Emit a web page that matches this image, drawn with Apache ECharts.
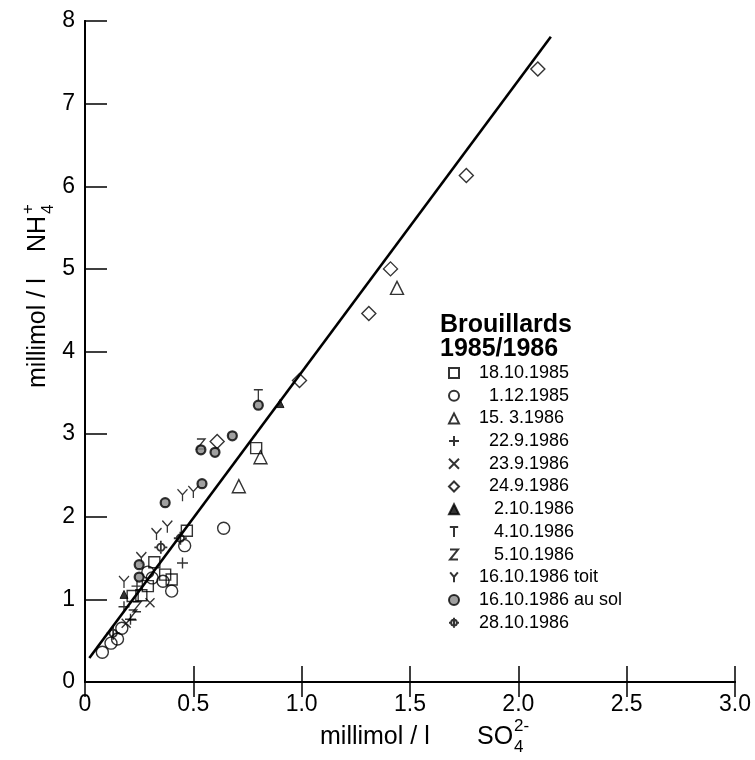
<!DOCTYPE html>
<html><head><meta charset="utf-8">
<script src="https://cdn.jsdelivr.net/npm/echarts@6/dist/echarts.min.js"></script>
<style>html,body{margin:0;padding:0;background:#fff}#c{width:755px;height:760px}</style>
</head><body><div id="c"></div>
<script>
// ---- data ----
const xTickLabels = ['0','0.5','1.0','1.5','2.0','2.5','3.0'];
const yTickLabels = ['0','1','2','3','4','5','6','7','8'];
const seriesNames = ['18.10.1985','1.12.1985','15. 3.1986','22.9.1986','23.9.1986','24.9.1986','2.10.1986','4.10.1986','5.10.1986','16.10.1986 toit','16.10.1986 au sol','28.10.1986'];
const legendLabels = ['18.10.1985','  1.12.1985','15. 3.1986','  22.9.1986','  23.9.1986','  24.9.1986','   2.10.1986','   4.10.1986','   5.10.1986','16.10.1986 toit','16.10.1986 au sol','28.10.1986'];
const d_18_10_1985 = [[0.47,1.83],[0.32,1.45],[0.37,1.30],[0.40,1.24],[0.29,1.16],[0.22,1.04],[0.26,1.05],[0.79,2.83]];
const d_01_12_1985 = [[0.64,1.86],[0.46,1.65],[0.29,1.33],[0.31,1.26],[0.36,1.22],[0.40,1.10],[0.17,0.65],[0.15,0.52],[0.12,0.47],[0.08,0.36]];
const d_15_03_1986 = [[0.71,2.37],[0.81,2.72],[1.44,4.77]];
const d_22_09_1986 = [[0.45,1.44],[0.24,1.16],[0.21,0.76],[0.18,0.91]];
const d_23_09_1986 = [[0.30,0.96],[0.19,0.71]];
const d_24_09_1986 = [[0.61,2.91],[0.99,3.65],[1.31,4.46],[1.41,5.00],[1.76,6.13],[2.09,7.42]];
const d_02_10_1986 = [[0.90,3.37],[0.18,1.06]];
const d_04_10_1986 = [[0.80,3.47]];
const d_05_10_1986 = [[0.535,2.88],[0.24,0.91],[0.22,0.81]];
const d_16_10_toit = [[0.38,1.88],[0.33,1.79],[0.26,1.50],[0.18,1.21],[0.45,2.26],[0.50,2.30]];
const d_16_10_sol = [[0.37,2.17],[0.54,2.40],[0.535,2.81],[0.60,2.78],[0.68,2.98],[0.80,3.35],[0.25,1.42],[0.25,1.27]];
const d_28_10_1986 = [[0.44,1.74],[0.35,1.63],[0.13,0.59]];
const regLineX = [0.02, 2.15];
const regLineY = [0.29, 7.81];

// ---- styles ----
const FONT = 'Liberation Sans';
const open = {color:'rgba(0,0,0,0)', borderColor:'#000', borderWidth:1.4};
const symbolDefs = [
  {symbol:'rect', size:11, style:open},
  {symbol:'circle', size:12, style:open},
  {symbol:'triangle', size:13, style:open},
  {symbol:'path://M6,0L6,12M0,6L12,6', size:11, style:open},
  {symbol:'path://M0,0L10,10M10,0L0,10', size:9, style:open},
  {symbol:'diamond', size:14, style:open},
  {symbol:'triangle', size:8, style:{color:'#000', borderColor:'#000', borderWidth:1}},
  {symbol:'path://M0,0L10,0M5,0L5,12', size:[9,11], style:open},
  {symbol:'path://M0,0L8,0L0,10L8,10', size:[8,10], style:open},
  {symbol:'path://M0,0L5,6L10,0M5,6L5,13', size:[10,12], style:open},
  {symbol:'circle', size:9, style:{color:'#888', borderColor:'#000', borderWidth:2.2}},
  {symbol:'path://M3,7A4,4,0,1,0,11,7A4,4,0,1,0,3,7M7,0L7,14M0,7L3,7M11,7L14,7', size:13, style:{color:'rgba(0,0,0,0)', borderColor:'#000', borderWidth:1.8}}
];
const allData = [d_18_10_1985,d_01_12_1985,d_15_03_1986,d_22_09_1986,d_23_09_1986,d_24_09_1986,d_02_10_1986,d_04_10_1986,d_05_10_1986,d_16_10_toit,d_16_10_sol,d_28_10_1986];

const series = [{
  type:'line', name:'reg', data: regLineX.map((x,i)=>[x, regLineY[i]]),
  symbol:'none', lineStyle:{color:'#000', width:2.6}, silent:true, z:1, animation:false
}];
seriesNames.forEach((n,i)=>{
  series.push({type:'scatter', name:n, data:allData[i], symbol:symbolDefs[i].symbol,
    symbolSize:symbolDefs[i].size, itemStyle:symbolDefs[i].style, z:3, animation:false});
});

const axisCommon = {axisLine:{show:true, lineStyle:{color:'#000', width:2}}, splitLine:{show:false}};
const chart = echarts.init(document.getElementById('c'), null, {renderer:'canvas'});
chart.setOption({
  animation:false,
  backgroundColor:'#fff',
  grid:{left:85, right:20, top:21, bottom:78, containLabel:false},
  xAxis:[
    Object.assign({type:'value', position:'bottom', min:0, max:3, interval:0.5,
      axisTick:{inside:true, length:16, lineStyle:{color:'#000', width:1.5}},
      axisLabel:{fontSize:23, fontFamily:FONT, color:'#000', margin:11, showMinLabel:true, showMaxLabel:true,
        formatter:(v,i)=>xTickLabels[Math.round(v/0.5)]}}, axisCommon),
    Object.assign({type:'value', position:'top', min:0, max:3, interval:0.5,
      axisTick:{inside:true, length:15, lineStyle:{color:'#000', width:1.5}}, axisLabel:{show:false}}, axisCommon)
  ],
  yAxis:[
    Object.assign({type:'value', position:'left', min:0, max:8, interval:1,
      axisTick:{inside:true, length:22, lineStyle:{color:'#000', width:1.5}},
      axisLabel:{fontSize:23, fontFamily:FONT, color:'#000', margin:10, showMinLabel:true, showMaxLabel:true,
        formatter:(v)=>yTickLabels[Math.round(v)]}}, axisCommon),
    Object.assign({type:'value', position:'right', min:0, max:8, interval:1,
      axisTick:{show:false}, axisLabel:{show:false}}, axisCommon)
  ],
  legend:{
    data:seriesNames, orient:'vertical', left:448, top:364, itemWidth:10, itemHeight:10, itemGap:4.7,
    padding:0, selectedMode:false,
    formatter:(name)=>legendLabels[seriesNames.indexOf(name)],
    textStyle:{fontSize:18, lineHeight:18, fontFamily:FONT, color:'#000', padding:[0,0,0,15]}
  },
  graphic:[
    {type:'text', x:440, y:325, style:{text:'Brouillards', font:'bold 25px '+FONT, fill:'#000', textAlign:'left', textVerticalAlign:'middle'}},
    {type:'text', x:440, y:349, style:{text:'1985/1986', font:'bold 25px '+FONT, fill:'#000', textAlign:'left', textVerticalAlign:'middle'}},
    {type:'text', x:320, y:737, style:{text:'millimol / l', font:'25px '+FONT, fill:'#000', textAlign:'left', textVerticalAlign:'middle'}},
    {type:'text', x:477, y:737, style:{text:'SO', font:'25px '+FONT, fill:'#000', textAlign:'left', textVerticalAlign:'middle'}},
    {type:'text', x:514, y:747, style:{text:'4', font:'17px '+FONT, fill:'#000', textAlign:'left', textVerticalAlign:'middle'}},
    {type:'text', x:514, y:726, style:{text:'2-', font:'17px '+FONT, fill:'#000', textAlign:'left', textVerticalAlign:'middle'}},
    {type:'text', x:38, y:388, rotation:Math.PI/2, style:{text:'millimol / l', font:'25px '+FONT, fill:'#000', textAlign:'left', textVerticalAlign:'middle'}},
    {type:'text', x:38, y:252, rotation:Math.PI/2, style:{text:'NH', font:'25px '+FONT, fill:'#000', textAlign:'left', textVerticalAlign:'middle'}},
    {type:'text', x:48, y:214, rotation:Math.PI/2, style:{text:'4', font:'17px '+FONT, fill:'#000', textAlign:'left', textVerticalAlign:'middle'}},
    {type:'text', x:28, y:214, rotation:Math.PI/2, style:{text:'+', font:'17px '+FONT, fill:'#000', textAlign:'left', textVerticalAlign:'middle'}}
  ],
  series:series
});
</script></body></html>
